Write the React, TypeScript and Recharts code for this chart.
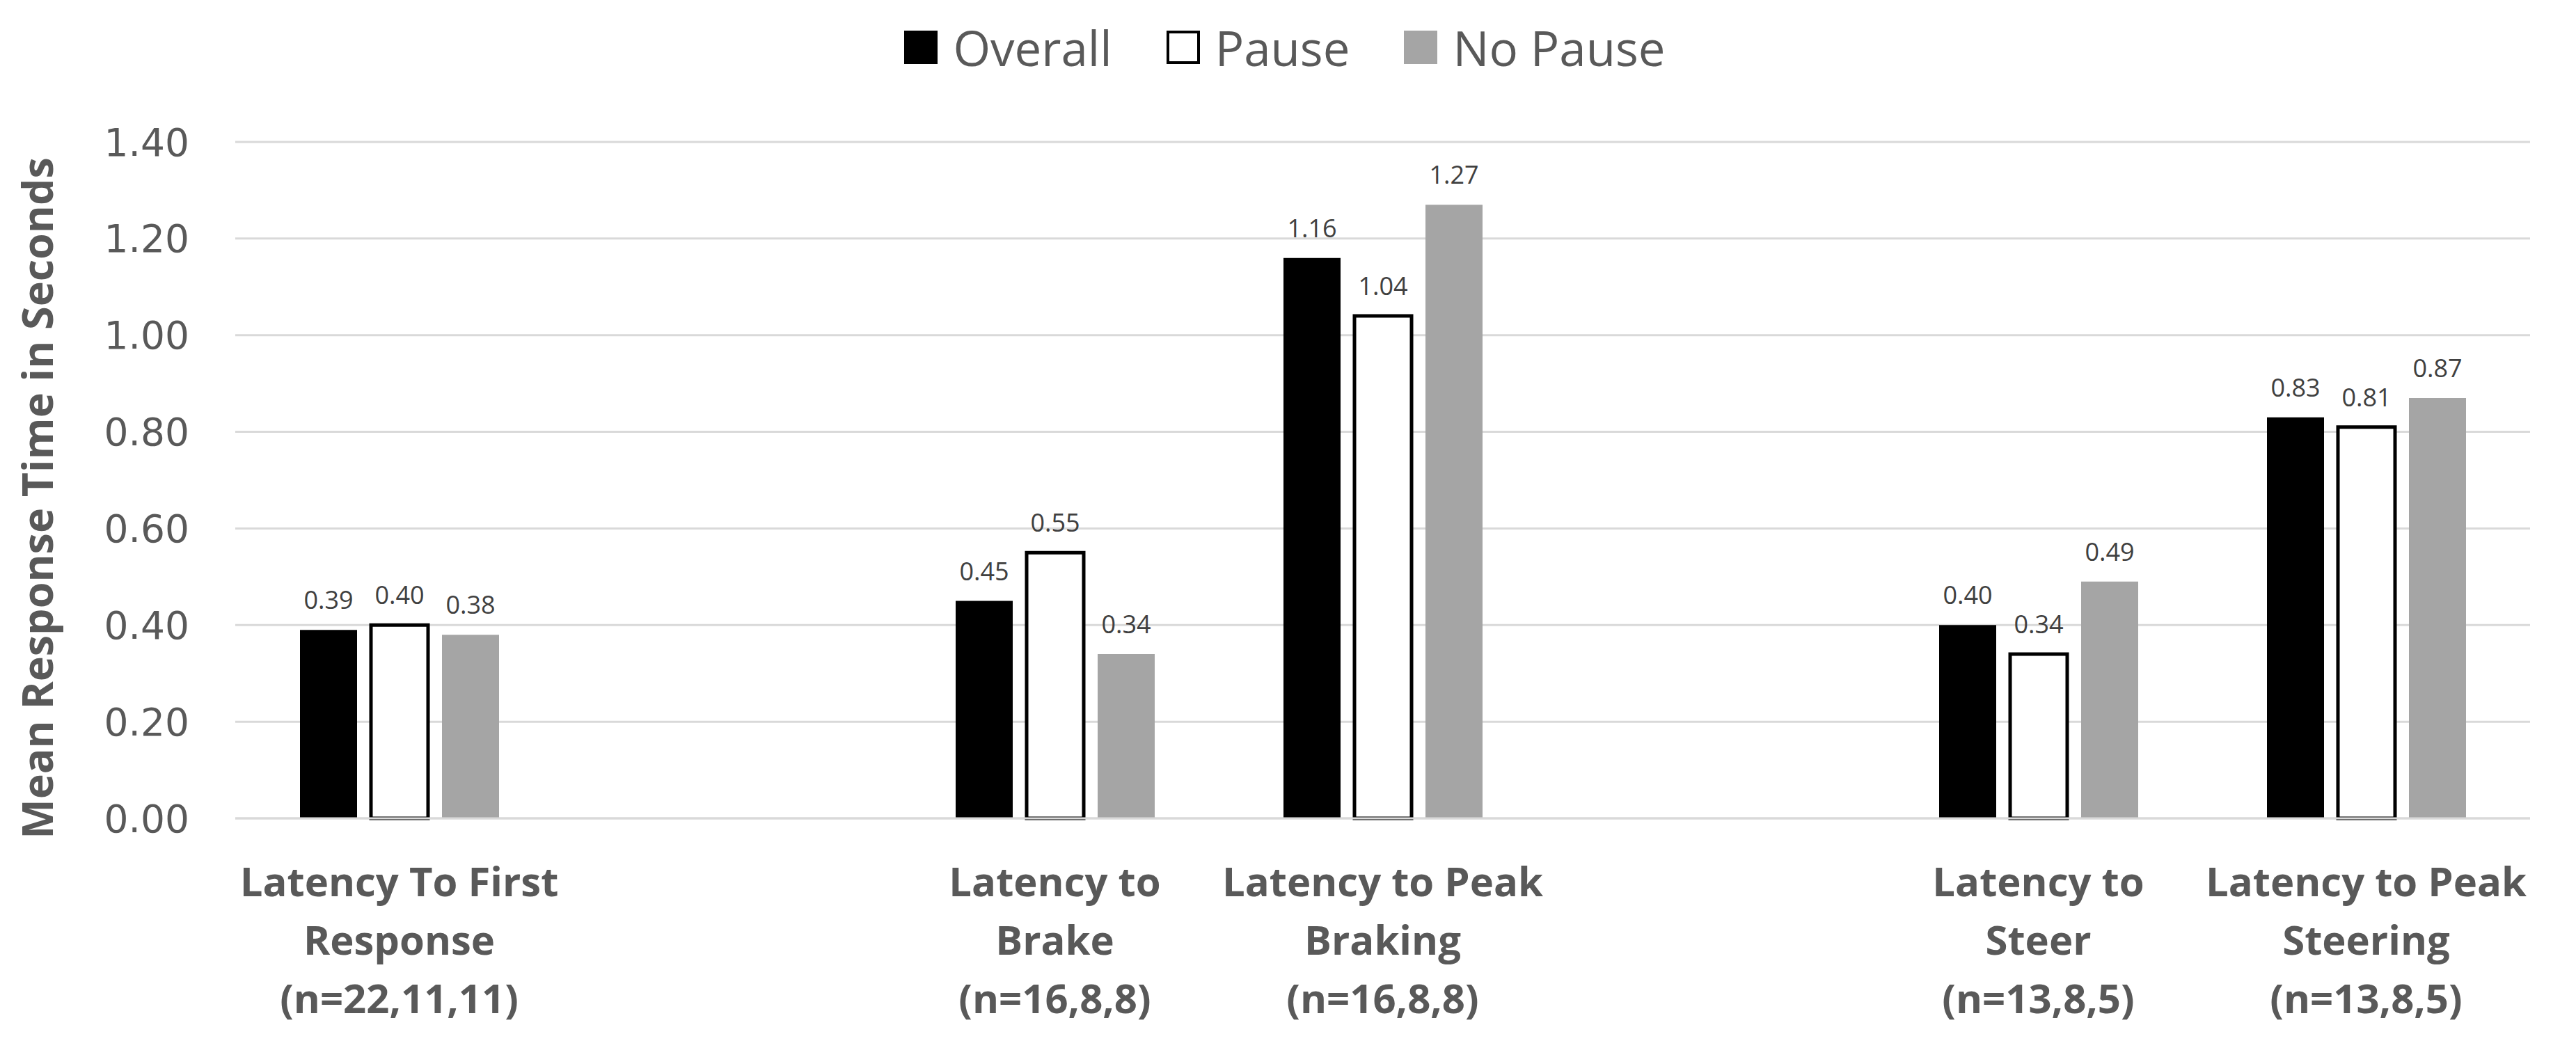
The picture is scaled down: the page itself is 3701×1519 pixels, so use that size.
import { Bar, BarChart, CartesianGrid, LabelList, Legend, XAxis, YAxis } from "recharts"

// categories: lines split with "|", blank entries are empty slots between groups
const categories = [
  "Latency To First|Response|(n=22,11,11)",
  " ",
  "Latency to|Brake|(n=16,8,8)",
  "Latency to Peak|Braking|(n=16,8,8)",
  "  ",
  "Latency to|Steer|(n=13,8,5)",
  "Latency to Peak|Steering|(n=13,8,5)",
]
const overall = [0.39, null, 0.45, 1.16, null, 0.4, 0.83]
const pause = [0.4, null, 0.55, 1.04, null, 0.34, 0.81]
const noPause = [0.38, null, 0.34, 1.27, null, 0.49, 0.87]
const yTicks = [0, 0.2, 0.4, 0.6, 0.8, 1.0, 1.2, 1.4]

const data = categories.map((name, i) => ({
  name,
  overall: overall[i],
  pause: pause[i],
  noPause: noPause[i],
}))

const legendItems = [
  { label: "Overall", fill: "#000000", stroke: "none" },
  { label: "Pause", fill: "#ffffff", stroke: "#000000" },
  { label: "No Pause", fill: "#a5a5a5", stroke: "none" },
]

const renderLegend = () => (
  <div
    style={{
      height: 204,
      display: "flex",
      justifyContent: "center",
      alignItems: "flex-start",
      paddingTop: 40,
      boxSizing: "border-box",
      fontFamily: "'Open Sans', sans-serif",
      fontSize: 69,
      color: "#595959",
    }}
  >
    {legendItems.map((it) => (
      <div
        key={it.label}
        style={{ display: "flex", alignItems: "center", margin: "0 39px", lineHeight: "56px" }}
      >
        <div
          style={{
            width: it.stroke === "none" ? 48 : 40,
            height: it.stroke === "none" ? 48 : 40,
            background: it.fill,
            border: it.stroke === "none" ? "none" : `4px solid ${it.stroke}`,
            marginRight: 22,
          }}
        />
        <span>{it.label}</span>
      </div>
    ))}
  </div>
)

const CategoryTick = ({ x, y, payload }: any) => {
  const lines = String(payload.value)
    .split("|")
    .filter((s) => s.trim() !== "")
  return (
    <g transform={`translate(${x},${y})`}>
      {lines.map((line, i) => (
        <text
          key={i}
          x={0}
          y={112 + i * 84}
          textAnchor="middle"
          fill="#595959"
          fontFamily="'Open Sans', sans-serif"
          fontWeight={700}
          fontSize={58}
        >
          {line}
        </text>
      ))}
    </g>
  )
}

const YTitle = ({ viewBox }: any) => {
  const cy = viewBox.y + viewBox.height / 2 + 26
  return (
    <text
      x={52}
      y={cy}
      transform={`rotate(-90, 52, ${cy})`}
      textAnchor="middle"
      dominantBaseline="central"
      fill="#595959"
      fontFamily="'Open Sans', sans-serif"
      fontWeight={700}
      fontSize={61}
    >
      Mean Response Time in Seconds
    </text>
  )
}

const labelStyle = {
  fill: "#404040",
  fontFamily: "'Open Sans', sans-serif",
  fontSize: 36,
}

const fmt = (v: any) => (v == null ? "" : Number(v).toFixed(2))

export default function App() {
  return (
    <div style={{ position: "absolute", left: 0, top: 0, background: "#fff" }}>
      <BarChart
        width={3701}
        height={1519}
        data={data}
        margin={{ top: 0, right: 66, left: 0, bottom: 0 }}
        barSize={82}
        barGap={20}
      >
        <Legend
          verticalAlign="top"
          content={renderLegend}
          wrapperStyle={{ left: 0, width: 3692 }}
        />
        <CartesianGrid stroke="#d9d9d9" strokeWidth={3} vertical={false} />
        <XAxis
          dataKey="name"
          height={343}
          tickLine={false}
          tickSize={0}
          tickMargin={0}
          axisLine={{ stroke: "#d9d9d9", strokeWidth: 3 }}
          tick={<CategoryTick />}
          interval={0}
        />
        <YAxis
          width={338}
          domain={[0, 1.4]}
          ticks={yTicks}
          tickFormatter={(v: number) => v.toFixed(2)}
          axisLine={false}
          tickLine={false}
          tickSize={0}
          tickMargin={66}
          tick={{ fill: "#595959", fontFamily: "'DejaVu Sans', sans-serif", fontSize: 55 }}
          label={<YTitle />}
        />
        <Bar dataKey="overall" fill="#000000" isAnimationActive={false}>
          <LabelList dataKey="overall" position="top" offset={30} formatter={fmt} style={labelStyle} />
        </Bar>
        <Bar dataKey="pause" fill="#ffffff" stroke="#000000" strokeWidth={5} isAnimationActive={false}>
          <LabelList dataKey="pause" position="top" offset={30} formatter={fmt} style={labelStyle} />
        </Bar>
        <Bar dataKey="noPause" fill="#a5a5a5" isAnimationActive={false}>
          <LabelList dataKey="noPause" position="top" offset={30} formatter={fmt} style={labelStyle} />
        </Bar>
      </BarChart>
    </div>
  )
}
